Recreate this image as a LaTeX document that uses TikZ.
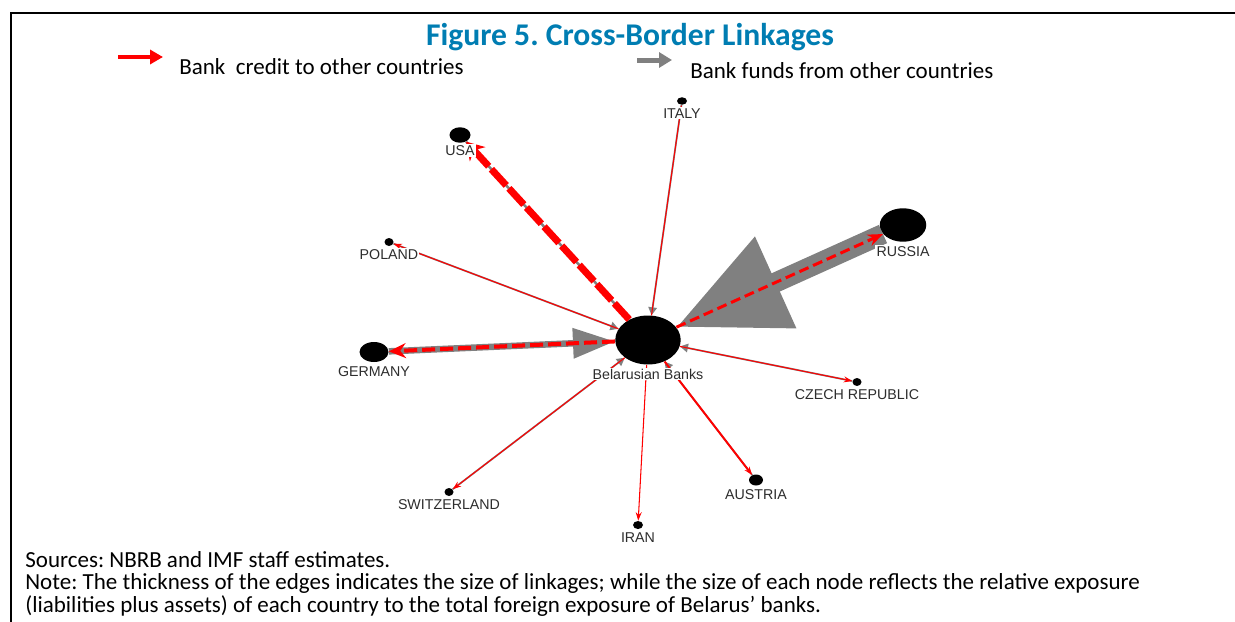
\documentclass[tikz,border=0pt]{standalone}
\usepackage{fontspec}
\setmainfont{Carlito}
\newfontfamily\lblfont{Liberation Sans}
\usepackage{xcolor}
\usepackage{tikz}
\usetikzlibrary{arrows.meta, shapes.geometric, positioning}
\definecolor{titleblue}{RGB}{0,125,178}
\definecolor{edgegray}{RGB}{128,128,128}
\definecolor{lblgray}{RGB}{45,45,45}
\frenchspacing

\begin{document}
\begin{tikzpicture}[x=0.02cm, y=-0.02cm,
	country/.style={ellipse, fill=black, inner sep=0pt},
	cname/.style={text=lblgray, fill=white, font=\lblfont\fontsize{8.1}{9}\selectfont, inner sep=0.6pt},
	credit/.style={red, line width=0.6pt, -{Stealth[length=0.17cm, width=0.12cm]}},
	funds/.style={edgegray, line width=1pt, -{Triangle[length=0.16cm, width=0.17cm]}},
	txt/.style={font=\fontsize{13.1}{15}\selectfont, inner sep=0pt, anchor=west}]
		\useasboundingbox (0,0) rectangle (1235,622);
		\draw[line width=1.4pt] (1235,13) -- (11,13) -- (11,622);
		
		% title and legend
		\node[font=\bfseries\fontsize{18}{20}\selectfont, text=titleblue] (title) at (630,37) {Figure 5. Cross-Border Linkages};
		\coordinate (credA) at (118,57);
		\coordinate (credB) at (163,57);
		\draw[red, line width=0.08cm, -{Triangle[length=0.26cm, width=0.28cm]}] (credA) -- (credB);
		\node[txt] (credtxt) at (179,67) {Bank~~credit to other countries};
		\coordinate (fundA) at (637,60);
		\coordinate (fundB) at (672,60);
		\draw[edgegray, line width=0.1cm, -{Triangle[length=0.26cm, width=0.3cm]}] (fundA) -- (fundB);
		\node[txt] (fundtxt) at (690,71) {Bank funds from other countries};
		
		% countries
		\node[country, minimum width=1.31cm, minimum height=0.98cm] (bb) at (648,340) {};
		\node[country, minimum width=0.42cm, minimum height=0.31cm] (usa) at (460,135) {};
		\node[country, minimum width=0.2cm, minimum height=0.15cm] (italy) at (682,101) {};
		\node[country, minimum width=0.93cm, minimum height=0.67cm] (russia) at (903,225) {};
		\node[country, minimum width=0.18cm, minimum height=0.16cm] (poland) at (389,242) {};
		\node[country, minimum width=0.58cm, minimum height=0.4cm] (germany) at (374,352) {};
		\node[country, minimum width=0.18cm, minimum height=0.16cm] (czech) at (857,382) {};
		\node[country, minimum width=0.18cm, minimum height=0.16cm] (swiss) at (449,492) {};
		\node[country, minimum width=0.2cm, minimum height=0.16cm] (iran) at (638,525) {};
		\node[country, minimum width=0.28cm, minimum height=0.22cm] (austria) at (756,480) {};
		
		% big links
		\draw[edgegray, line width=0.4cm, -{Triangle[length=2.18cm, width=1.9cm]}] (russia) -- (bb);
		\draw[red, line width=0.06cm, dash pattern=on 0.2cm off 0.1cm, -{Stealth[length=0.3cm, width=0.24cm]}] (bb) -- (russia);
		\draw[edgegray, line width=0.13cm, -{Triangle[length=0.84cm, width=0.58cm]}] (germany) -- (bb);
		\draw[red, line width=0.08cm, dash pattern=on 0.26cm off 0.1cm, -{Stealth[length=0.34cm, width=0.3cm]}] (bb) -- (germany);
		\draw[edgegray, line width=0.05cm] (usa) -- (bb);
		\draw[red, line width=0.14cm, dash pattern=on 0.44cm off 0.08cm, -{Stealth[length=0.34cm, width=0.42cm]}] (bb) -- (usa);
		
		% thin links
		\foreach \c in {italy, poland, czech, swiss, austria}
			\draw[funds] (\c) -- (bb);
		\foreach \c in {italy, poland, czech, swiss, iran}
			\draw[credit] (bb) -- (\c);
		\draw[credit, line width=1.1pt] (bb) -- (austria);
		
		% labels
		\node[cname, below=1.5pt of bb] (lbb) {Belarusian Banks};
		\node[cname, below=0.5pt of usa] (lusa) {USA};
		\node[cname, below=1pt of italy] (litaly) {ITALY};
		\node[cname, below=1.5pt of russia] (lrussia) {RUSSIA};
		\node[cname, below=1pt of poland] (lpoland) {POLAND};
		\node[cname, below=1.5pt of germany] (lgermany) {GERMANY};
		\node[cname, below=1pt of czech] (lczech) {CZECH REPUBLIC};
		\node[cname, below=1pt of swiss] (lswiss) {SWITZERLAND};
		\node[cname, below=1pt of iran] (liran) {IRAN};
		\node[cname, below=1.5pt of austria] (laustria) {AUSTRIA};
		
		% notes
		\node[txt] (src) at (25,560) {Sources: NBRB and IMF staff estimates.};
		\node[txt] (note1) at (25,583) {Note: The thickness of the edges indicates the size of linkages; while the size of each node reflects the relative exposure};
		\node[txt] (note2) at (25,606) {(liabilities plus assets) of each country to the total foreign exposure of Belarus’ banks.};
\end{tikzpicture}
\end{document}
